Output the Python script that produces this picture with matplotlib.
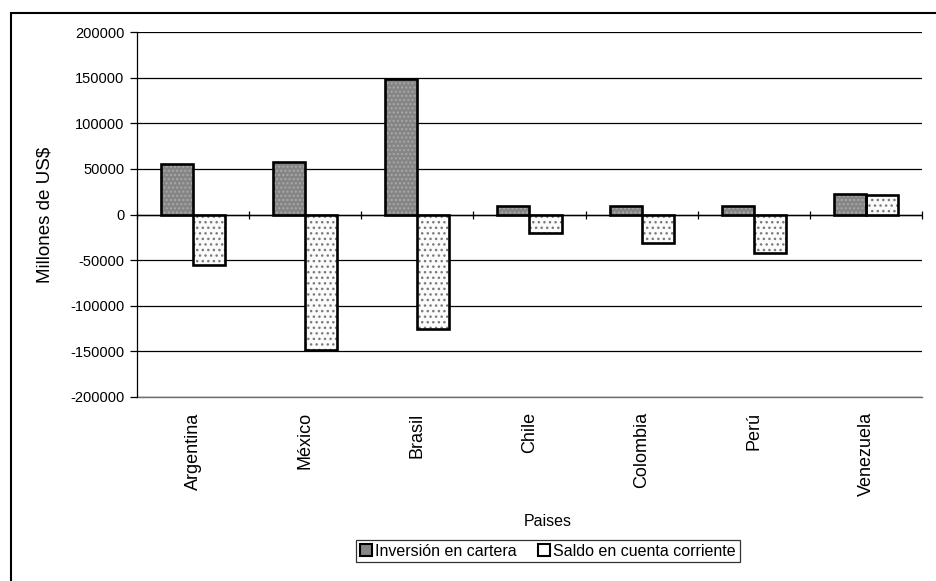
import numpy as np
import matplotlib.pyplot as plt
from matplotlib.patches import Patch, Rectangle

# Portfolio investment vs current account balance by country (millions of US$)
paises = ["Argentina", "México", "Brasil", "Chile", "Colombia", "Perú", "Venezuela"]
inversion_cartera = [55000, 57000, 148000, 9500, 9000, 9000, 22500]
saldo_cuenta = [-55000, -148000, -126000, -20000, -31000, -42000, 21500]
yticks = [-200000, -150000, -100000, -50000, 0, 50000, 100000, 150000, 200000]

plt.rcParams["font.family"] = ["Liberation Sans", "DejaVu Sans"]
plt.rcParams["axes.unicode_minus"] = False
plt.rcParams["hatch.linewidth"] = 1.0

fig = plt.figure(figsize=(9.37, 5.81), dpi=100)
ax = fig.add_axes([0.1462, 0.3167, 0.8378, 0.6282])

x = np.arange(len(paises))
w = 0.286

# dark series: mottled grey fill, then a heavy outline on top
ax.bar(x - w / 2, inversion_cartera, w, color="#858585", edgecolor="#a8a8a8",
       hatch="....", linewidth=0, zorder=3)
ax.bar(x - w / 2, inversion_cartera, w, fill=False, edgecolor="black",
       linewidth=1.9, zorder=4)
# light series: white with sparse dots
ax.bar(x + w / 2, saldo_cuenta, w, color="#fbfbfb", edgecolor="#7a7a7a",
       hatch="...", linewidth=0, zorder=3)
ax.bar(x + w / 2, saldo_cuenta, w, fill=False, edgecolor="black",
       linewidth=1.9, zorder=4)

ax.set_xlim(-0.5, len(paises) - 0.5)
ax.set_ylim(-200000, 200000)
ax.set_yticks(yticks)
ax.set_yticklabels([str(v) for v in yticks])
ax.yaxis.grid(True, color="black", linewidth=0.9, zorder=0)
ax.tick_params(axis="y", direction="out", length=5, width=0.9, labelsize=10.5, pad=4)

ax.set_xticks(x)
ax.set_xticklabels(paises, rotation=90, fontsize=13)
ax.tick_params(axis="x", length=0, pad=11)

for side in ("top", "right", "bottom"):
    ax.spines[side].set_visible(False)
ax.spines["left"].set_linewidth(0.9)

# lowest gridline sits on the axes edge, draw it unclipped
ax.axhline(yticks[0], color="#707070", linewidth=1.0, zorder=1, clip_on=False)

# category axis drawn at zero with crossing ticks at the category boundaries
ax.axhline(0, color="black", linewidth=1.0, zorder=2)
bounds = np.arange(len(paises) + 1) - 0.5
ax.plot(bounds, np.zeros_like(bounds), ls="none", marker="|", ms=6, mew=0.9,
        color="black", zorder=2, clip_on=False)

fig.text(45 / 937, 1 - 215 / 581, "Millones de US$", rotation=90,
         ha="center", va="center", fontsize=13.5)
fig.text(548 / 937, 1 - 522 / 581, "Paises", ha="center", va="center", fontsize=11.5)

handles = [Patch(facecolor="#858585", edgecolor="black", linewidth=1.5),
           Patch(facecolor="white", edgecolor="black", linewidth=1.5)]
leg = fig.legend(handles, ["Inversión en cartera", "Saldo en cuenta corriente"],
                 loc="center", bbox_to_anchor=(548 / 937, 1 - 551 / 581), ncol=2,
                 fontsize=11.5, frameon=True, fancybox=False, handlelength=0.75,
                 handleheight=0.75, handletextpad=0.2, columnspacing=1.3,
                 borderpad=0.25, borderaxespad=0)
leg.get_frame().set_edgecolor("black")
leg.get_frame().set_linewidth(0.9)

# outer chart border
fig.patches.append(Rectangle((11 / 937, -0.02), 1.0, 1 - 13 / 581 + 0.02,
                             transform=fig.transFigure, fill=False,
                             edgecolor="black", linewidth=1.5))

fig.savefig("out.png", dpi=100)
